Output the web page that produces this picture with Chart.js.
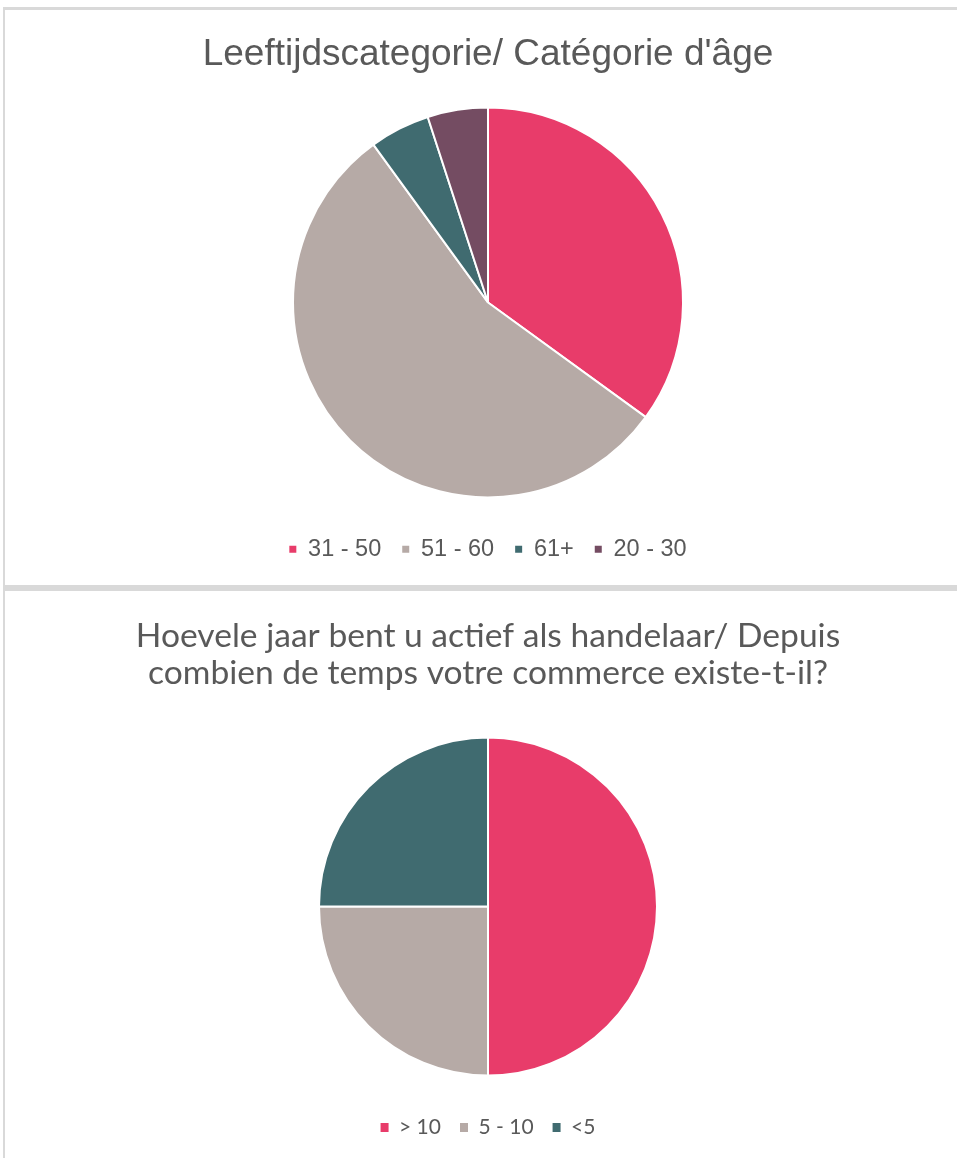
<!DOCTYPE html>
<html>
<head>
<meta charset="utf-8">
<script src="https://cdn.jsdelivr.net/npm/chart.js@4/dist/chart.umd.min.js"></script>
<style>
    html, body { margin: 0; padding: 0; background: #fff; }
    body { width: 957px; height: 1158px; position: relative; overflow: hidden; }
    .line { position: absolute; background: #d9d9d9; }
    .panel { position: absolute; left: 5px; width: 966px; }
    .panel canvas { display: block; }
</style>
</head>
<body>
<div class="line" style="left:3px;top:7px;width:954px;height:3px;"></div>
<div class="line" style="left:3px;top:7px;width:2px;height:1151px;"></div>
<div class="line" style="left:3px;top:585px;width:954px;height:6px;"></div>

<div class="panel" style="top:10px;height:575px;"><canvas id="ageChart" width="966" height="575"></canvas></div>
<div class="panel" style="top:591px;height:567px;"><canvas id="yearsChart" width="966" height="567"></canvas></div>

<script>
var ageLabels = ["31 - 50", "51 - 60", "61+", "20 - 30"];
var ageValues = [7, 11, 1, 1];
var ageColors = ["#e83c6a", "#b6aaa6", "#406b70", "#744c62"];

var yearLabels = ["> 10", "5 - 10", "<5"];
var yearValues = [2, 1, 1];
var yearColors = ["#e83c6a", "#b6aaa6", "#406b70"];

var textColor = "#595959";

// legend squares without the white slice border
function plainLabels(chart) {
    var items = Chart.controllers.pie.overrides.plugins.legend.labels.generateLabels(chart);
    items.forEach(function(item) {
        item.lineWidth = 0;
        item.strokeStyle = item.fillStyle;
    });
    return items;
}

function makePie(id, labels, values, colors, opts) {
    return new Chart(document.getElementById(id), {
        type: "pie",
        data: {
            labels: labels,
            datasets: [{
                data: values,
                backgroundColor: colors,
                borderColor: "#ffffff",
                borderWidth: 2,
                radius: opts.radius
            }]
        },
        options: {
            responsive: false,
            animation: false,
            devicePixelRatio: 1,
            layout: { padding: { top: 0, bottom: opts.bottomPad } },
            plugins: {
                tooltip: { enabled: false },
                title: {
                    display: true,
                    text: opts.title,
                    color: textColor,
                    font: opts.titleFont,
                    padding: opts.titlePad
                },
                legend: {
                    position: "bottom",
                    labels: {
                        color: textColor,
                        font: opts.legendFont,
                        boxWidth: opts.box[0],
                        boxHeight: opts.box[1],
                        padding: opts.legendPad,
                        generateLabels: plainLabels
                    }
                }
            }
        }
    });
}

makePie("ageChart", ageLabels, ageValues, ageColors, {
    radius: 195,
    title: "Leeftijdscategorie/ Catégorie d'âge",
    titleFont: { family: "'Liberation Sans', Arial, sans-serif", size: 37, weight: "normal", lineHeight: 1.2 },
    titlePad: { top: 23, bottom: 11 },
    legendFont: { family: "'Liberation Sans', Arial, sans-serif", size: 23.5 },
    legendPad: 21,
    box: [7, 7],
    bottomPad: 14
});

makePie("yearsChart", yearLabels, yearValues, yearColors, {
    radius: 169,
    title: ["Hoevele jaar bent u actief als handelaar/ Depuis", "combien de temps votre commerce existe-t-il?"],
    titleFont: { family: "Lato, 'Open Sans', sans-serif", size: 33.6, weight: "normal", lineHeight: 1.09 },
    titlePad: { top: 27, bottom: 24 },
    legendFont: { family: "Lato, 'Open Sans', sans-serif", size: 21 },
    legendPad: 19,
    box: [8, 9],
    bottomPad: 10
});
</script>
</body>
</html>
